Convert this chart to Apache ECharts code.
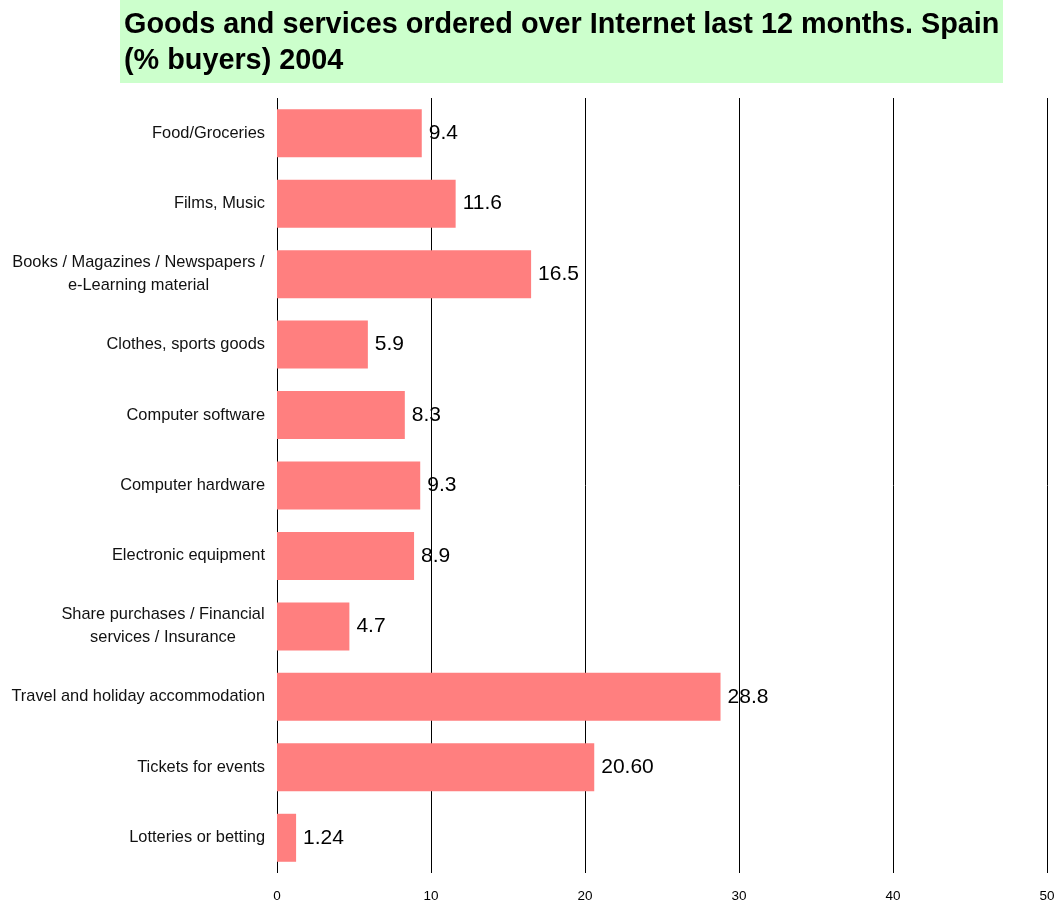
<!DOCTYPE html>
<html><head><meta charset="utf-8">
<script src="https://cdn.jsdelivr.net/npm/echarts@6/dist/echarts.min.js"></script>
<style>html,body{margin:0;padding:0;background:#fff}#c{width:1058px;height:903px}</style>
</head><body><div id="c"></div>
<script>
const categories = ["Food/Groceries","Films, Music","Books / Magazines / Newspapers /\ne-Learning material","Clothes, sports goods","Computer software","Computer hardware","Electronic equipment","Share purchases / Financial\nservices / Insurance","Travel and holiday accommodation","Tickets for events","Lotteries or betting"];
const values = [9.4, 11.6, 16.5, 5.9, 8.3, 9.3, 8.9, 4.7, 28.8, 20.6, 1.24];
const valueLabels = ["9.4","11.6","16.5","5.9","8.3","9.3","8.9","4.7","28.8","20.60","1.24"];
const xTicks = [0, 10, 20, 30, 40, 50];
const titleText = "Goods and services ordered over Internet last 12 months. Spain\n(% buyers) 2004";

const catSize = 16.4;
const ctx = document.createElement('canvas').getContext('2d');
ctx.font = catSize + 'px "Liberation Sans"';
const rich = {};
const catFormatter = (v, idx) => {
  const lines = v.split('\n');
  if (lines.length === 1) return v;
  const w = Math.ceil(Math.max(...lines.map(l => ctx.measureText(l).width)));
  const key = 'w' + idx;
  rich[key] = {width: w, align: 'center', fontFamily: 'Liberation Sans', fontSize: catSize, color: '#111', lineHeight: 23};
  return lines.map(l => '{' + key + '|' + l + '}').join('\n');
};
categories.forEach((c, i) => catFormatter(c, i));

const chart = echarts.init(document.getElementById('c'));
chart.setOption({
  animation: false,
  graphic: [{type:'rect', shape:{x:120,y:0,width:883,height:83}, style:{fill:'#ccffcc'}, z:-1}],
  title: {text: titleText, left: 119, top: 2, textStyle:{fontFamily:'Liberation Sans', fontWeight:'bold', fontSize:28.8, lineHeight:36, color:'#000'}},
  grid: {left: 277, right: 11, top: 98, bottom: 30, containLabel:false},
  xAxis: {type:'value', min: xTicks[0], max: xTicks[xTicks.length-1], interval: 10,
    axisLine:{show:false}, axisTick:{show:false},
    splitLine:{show:true, lineStyle:{color:'#000', width:1}},
    axisLabel:{fontFamily:'Liberation Sans', fontSize:13.5, color:'#000', margin:16}},
  yAxis: {type:'category', data: categories, inverse:true,
    axisLine:{show:false}, axisTick:{show:false},
    axisLabel:{fontFamily:'Liberation Sans', fontSize:catSize, color:'#111', margin:12, align:'right', lineHeight:23,
      formatter: catFormatter, rich: rich}},
  series: [{type:'bar', data: values, barWidth: 48, itemStyle:{color:'#ff7f7f'},
    label:{show:true, position:'right', distance:7, fontFamily:'Liberation Sans', fontSize:21, color:'#000',
      formatter: p => valueLabels[p.dataIndex]}}]
});
</script></body></html>
